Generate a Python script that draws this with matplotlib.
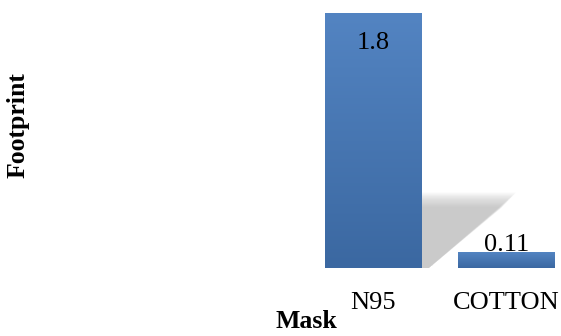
import numpy as np
import matplotlib.pyplot as plt
from matplotlib.patches import Polygon
from matplotlib.colors import LinearSegmentedColormap

categories = ["N95", "COTTON"]
values = [1.8, 0.11]
value_labels = ["1.8", "0.11"]

plt.rcParams['font.family'] = ['Liberation Serif', 'DejaVu Serif']

fig = plt.figure(figsize=(5.61, 3.36), dpi=100)
ax = fig.add_axes([306 / 561, 68 / 336, 255 / 561, 255 / 336])

# soft shadow behind the tall bar
x = np.arange(len(categories))
w = 0.72
r = x[0] + w / 2
for k in range(14):
    d = 0.008 * (k - 4)
    shadow = Polygon([(r, 0.46 + d), (r + 0.64 + d, 0.46 + d),
                      (r + 0.06, 0.0), (r, 0.0)],
                     closed=True, facecolor='#b5b5b5', alpha=0.075, lw=0, zorder=1)
    ax.add_patch(shadow)

cmap = LinearSegmentedColormap.from_list('bar', ['#3b68a1', '#5384c2'])
bars = ax.bar(x, values, width=w, color='none', zorder=2)
grad = np.linspace(0, 1, 256).reshape(-1, 1)
for b in bars:
    x0, y0 = b.get_x(), b.get_y()
    im = ax.imshow(grad, extent=[x0, x0 + b.get_width(), y0, y0 + b.get_height()],
                   origin='lower', cmap=cmap, aspect='auto', zorder=2)
    im.set_clip_path(b)
ax.set_xlim(-0.5, -0.5 + 255 / 133.5)
ax.set_ylim(0, 1.8)

ax.text(x[0], 1.8 - 0.21, value_labels[0], ha='center', va='center', fontsize=19)
ax.text(x[1], values[1] + 0.052, value_labels[1], ha='center', va='center', fontsize=19)

for s in ax.spines.values():
    s.set_visible(False)
ax.set_yticks([])
ax.set_xticks(x)
ax.set_xticklabels(categories, fontsize=19)
ax.tick_params(axis='x', length=0, pad=17)

fig.text(18 / 561, 1 - 125 / 336, "Footprint", rotation=90, ha='center', va='center',
         fontsize=18.5, fontweight='bold')
fig.text(306 / 561, 1 - 321 / 336, "Mask", ha='center', va='center',
         fontsize=18.5, fontweight='bold')

fig.savefig('out.png', dpi=100)
